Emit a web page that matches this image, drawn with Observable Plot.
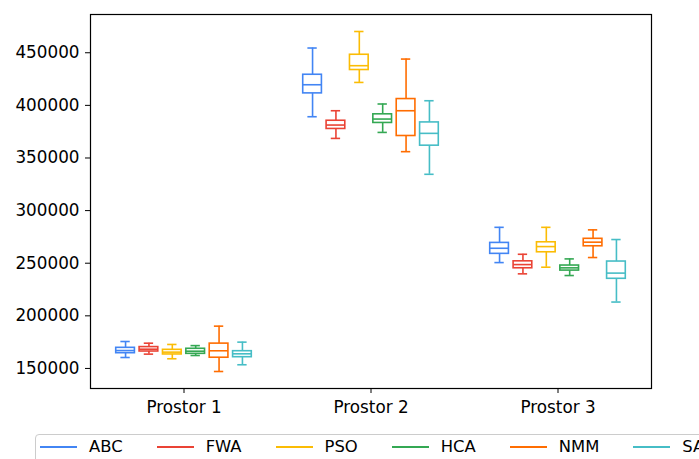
<!DOCTYPE html>
<html>
<head>
<meta charset="utf-8">
<script src="https://cdn.jsdelivr.net/npm/d3@7"></script>
<script src="https://cdn.jsdelivr.net/npm/@observablehq/plot@0.6"></script>
<style>
  html, body { margin: 0; padding: 0; background: #fff; width: 699px; height: 459px; overflow: hidden; }
  #chart svg { display: block; }
  .legend {
    position: relative; margin-left: 35px; margin-top: 4px; width: 700px; height: 40px;
    border: 1px solid #cccccc; border-radius: 4px; box-sizing: border-box;
    display: flex; align-items: flex-start; padding-left: 4px; padding-top: 2px;
    font-family: "DejaVu Sans", sans-serif; font-size: 16.4px; line-height: 20px; color: #000;
  }
  .legend .item { display: flex; align-items: center; margin-right: 34px; white-space: nowrap; height: 20px; }
  .legend .sw { width: 37px; height: 2px; margin-right: 12px; }
</style>
</head>
<body>
<div id="chart"></div>
<script>
const groups = ["Prostor 1", "Prostor 2", "Prostor 3"];
const methods = ["ABC", "FWA", "PSO", "HCA", "NMM", "SA"];
const colors = ["#4285F4", "#EA4335", "#FBBC04", "#34A853", "#FF6D01", "#46BDC6"];
const yTicks = [150000, 200000, 250000, 300000, 350000, 400000, 450000];

// per group: values for ABC, FWA, PSO, HCA, NMM, SA
const whiskerLow = [
  [160400, 163600, 159200, 162300, 147100, 153500],
  [389200, 368600, 421800, 374300, 356000, 334500],
  [250600, 239900, 246200, 238300, 255400, 213100]
];
const q1 = [
  [164500, 166100, 163300, 163900, 160200, 160700],
  [411400, 377600, 433600, 383300, 370900, 361700],
  [258900, 245200, 260400, 243000, 266100, 235200]
];
const median = [
  [167000, 168300, 165500, 166400, 166800, 163900],
  [419600, 381300, 437700, 387000, 394900, 373400],
  [264200, 248700, 265800, 245600, 270000, 240600]
];
const q3 = [
  [169600, 170300, 167700, 168700, 173600, 166400],
  [429100, 385400, 448100, 391500, 406000, 383800],
  [269300, 251800, 269900, 247800, 273200, 251600]
];
const whiskerHigh = [
  [175600, 174000, 172800, 171700, 190200, 175000],
  [454500, 394900, 470200, 401300, 444000, 404400],
  [284100, 258500, 284100, 254100, 281700, 272500]
];

const rows = [];
groups.forEach((g, gi) => methods.forEach((m, mi) => {
  rows.push({group: g, gi, method: m, mi,
    lo: whiskerLow[gi][mi], q1: q1[gi][mi], med: median[gi][mi],
    q3: q3[gi][mi], hi: whiskerHigh[gi][mi]});
}));

const step = 0.125, half = 0.05, cap = 0.025;
const pos = d => d.gi + (d.mi - (methods.length - 1) / 2) * step;

const allVals = rows.flatMap(d => [d.lo, d.hi]);
const [vmin, vmax] = d3.extent(allVals);
const pad = (vmax - vmin) * 0.05;

const common = {stroke: "method", strokeWidth: 1.6};

const chart = Plot.plot({
  width: 699, height: 430,
  marginTop: 14, marginBottom: 42, marginLeft: 90, marginRight: 48,
  style: {fontFamily: "DejaVu Sans, sans-serif", fontSize: "16.8px", color: "#000", background: "#fff"},
  x: {type: "linear", domain: [-0.5, groups.length - 0.5], ticks: groups.map((g, i) => i),
      tickFormat: i => groups[i], tickSize: 5, tickPadding: 8, label: null},
  y: {domain: [vmin - pad, vmax + pad], ticks: yTicks, tickFormat: d3.format("d"),
      tickSize: 5, tickPadding: 6, label: null},
  color: {domain: methods, range: colors},
  marks: [
    Plot.ruleX(rows, {x: pos, y1: "lo", y2: "q1", ...common}),
    Plot.ruleX(rows, {x: pos, y1: "q3", y2: "hi", ...common}),
    Plot.ruleY(rows, {y: "lo", x1: d => pos(d) - cap, x2: d => pos(d) + cap, ...common}),
    Plot.ruleY(rows, {y: "hi", x1: d => pos(d) - cap, x2: d => pos(d) + cap, ...common}),
    Plot.rect(rows, {x1: d => pos(d) - half, x2: d => pos(d) + half, y1: "q1", y2: "q3", fill: "none", ...common}),
    Plot.ruleY(rows, {y: "med", x1: d => pos(d) - half, x2: d => pos(d) + half, ...common}),
    Plot.frame({stroke: "#000", strokeWidth: 1.2})
  ]
});
document.getElementById("chart").appendChild(chart);

const legend = document.createElement("div");
legend.className = "legend";
methods.forEach((m, i) => {
  const item = document.createElement("div");
  item.className = "item";
  const sw = document.createElement("span");
  sw.className = "sw";
  sw.style.background = colors[i];
  const t = document.createElement("span");
  t.textContent = m;
  item.appendChild(sw); item.appendChild(t);
  legend.appendChild(item);
});
document.body.appendChild(legend);
</script>
</body>
</html>
